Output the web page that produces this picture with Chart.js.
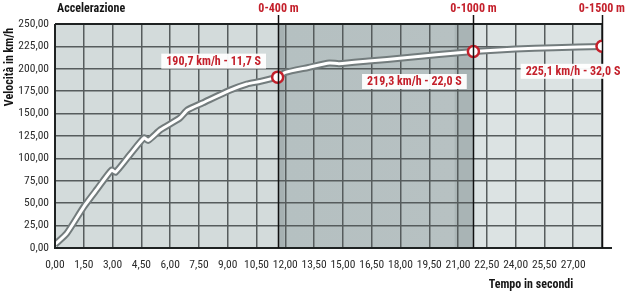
<!DOCTYPE html>
<html>
<head>
<meta charset="utf-8">
<script src="https://cdn.jsdelivr.net/npm/chart.js@4/dist/chart.umd.min.js"></script>
<style>
    body { margin: 0; background: #fff; }
    #wrap { width: 630px; height: 291px; }
</style>
</head>
<body>
<div id="wrap"><canvas id="accelChart" width="630" height="291"></canvas></div>
<script>
// speed curve (time in s, speed in km/h)
const timeValues = [0, 0.6, 1.5, 2.2, 2.95, 3.15, 3.9, 4.65, 4.85, 5.5, 6.5, 6.9, 7.7, 9.1, 10.0, 10.7, 11.6,
    12.0, 13.2, 14.3, 14.8, 16.5, 18.1, 20.0, 21.8, 24.0, 26.0, 28.5];
const speedValues = [4, 16, 46, 66, 87, 84.5, 104, 123, 120, 132, 145, 154, 162, 176, 183, 186, 191,
    196, 201.5, 206.5, 205.7, 209, 212, 216, 219.3, 222, 223.5, 225];

// distance markers
const markerTimes = [11.6, 21.8, 28.5];
const markerSpeeds = [190.7, 219.3, 225.1];
const markerNames = ['0-400 m', '0-1000 m', '0-1500 m'];
const markerLabels = ['190,7 km/h - 11,7 S', '219,3 km/h - 22,0 S', '225,1 km/h - 32,0 S'];

const xMax = 28.5;
const xStep = 1.5;
const yMax = 250;
const yStep = 25;

const RED = '#c4202b';
const NARROW = '"Liberation Sans Narrow", "Arial Narrow", "Roboto Condensed", "Liberation Sans", sans-serif';

const curve = timeValues.map((t, i) => ({ x: t, y: speedValues[i] }));
const markers = markerTimes.map((t, i) => ({ x: t, y: markerSpeeds[i] }));

function fmt(v) {
    return v.toFixed(2).replace('.', ',');
}

// plot background with the shaded 400-1000 m band
const backgroundPlugin = {
    id: 'background',
    beforeDraw(chart) {
        const { ctx, chartArea: a, scales: { x } } = chart;
        const x1 = x.getPixelForValue(markerTimes[0]);
        const x2 = x.getPixelForValue(markerTimes[1]);
        ctx.save();
        ctx.fillStyle = '#d3dbdb';
        ctx.fillRect(a.left, a.top, x1 - a.left, a.height);
        const g = ctx.createLinearGradient(x1, 0, x2, 0);
        g.addColorStop(0, '#a6b1b2');
        g.addColorStop(0.03, '#a6b1b2');
        g.addColorStop(0.04, '#b5c0c1');
        g.addColorStop(0.9, '#b7c1c2');
        g.addColorStop(0.91, '#a9b4b5');
        g.addColorStop(1, '#a9b4b5');
        ctx.fillStyle = g;
        ctx.fillRect(x1, a.top, x2 - x1, a.height);
        ctx.fillStyle = '#dce3e3';
        ctx.fillRect(x2, a.top, a.right - x2, a.height);
        ctx.restore();
    },
    afterDatasetsDraw(chart) {
        const { ctx, chartArea: a, scales: { x, y } } = chart;
        ctx.save();
        // frame lines
        ctx.strokeStyle = '#1e2222';
        ctx.lineWidth = 2;
        ctx.beginPath();
        ctx.moveTo(a.left, a.top);
        ctx.lineTo(a.left, a.bottom);
        ctx.lineTo(a.right + 10, a.bottom);
        ctx.moveTo(a.left, a.top);
        ctx.lineTo(a.right, a.top);
        ctx.stroke();

        // distance marker lines and names
        ctx.lineWidth = 1.5;
        ctx.font = 'bold 12px ' + NARROW;
        ctx.textBaseline = 'middle';
        markerTimes.forEach((t, i) => {
            const px = Math.round(x.getPixelForValue(t)) + 0.5;
            ctx.strokeStyle = '#111';
            ctx.beginPath();
            ctx.moveTo(px, a.top - 9);
            ctx.lineTo(px, a.bottom);
            ctx.stroke();
            ctx.fillStyle = RED;
            ctx.textAlign = 'center';
            const w = ctx.measureText(markerNames[i]).width;
            let cx = px;
            if (cx + w / 2 > chart.width - 5) cx = chart.width - 5 - w / 2;
            ctx.fillText(markerNames[i], cx, 9);
        });
        ctx.restore();
    },
    afterDraw(chart) {
        const { ctx, chartArea: a, scales: { x, y } } = chart;
        ctx.save();
        // value labels in white boxes
        const offsets = [[-64, -16], [-59, 30], [-29, 25]];
        ctx.font = 'bold 12px ' + NARROW;
        ctx.textAlign = 'center';
        ctx.textBaseline = 'middle';
        markerLabels.forEach((txt, i) => {
            const cx = x.getPixelForValue(markerTimes[i]) + offsets[i][0];
            const cy = y.getPixelForValue(markerSpeeds[i]) + offsets[i][1];
            const w = ctx.measureText(txt).width + 10;
            ctx.fillStyle = 'rgba(255,255,255,0.95)';
            ctx.fillRect(cx - w / 2, cy - 7.5, w, 15);
            ctx.fillStyle = RED;
            ctx.fillText(txt, cx, cy + 0.5);
        });

        // titles
        ctx.fillStyle = '#151515';
        ctx.font = 'bold 12px ' + NARROW;
        ctx.textAlign = 'left';
        ctx.fillText('Accelerazione', a.left + 2, 9);
        ctx.textAlign = 'center';
        ctx.fillText('Tempo in secondi', 531, 285);
        ctx.translate(10, 67);
        ctx.rotate(-Math.PI / 2);
        ctx.fillText('Velocità in km/h', 0, 0);
        ctx.restore();
    }
};

new Chart(document.getElementById('accelChart'), {
    type: 'line',
    data: {
        datasets: [
            {
                type: 'scatter',
                data: markers,
                pointRadius: 5.5,
                pointBorderWidth: 2.5,
                pointBackgroundColor: '#ffffff',
                pointBorderColor: RED,
                showLine: false
            },
            {
                data: curve,
                borderColor: '#ffffff',
                borderWidth: 3,
                pointRadius: 0,
                tension: 0.2
            },
            {
                data: curve,
                borderColor: '#737c7d',
                borderWidth: 7,
                pointRadius: 0,
                tension: 0.2
            }
        ]
    },
    plugins: [backgroundPlugin],
    options: {
        responsive: false,
        animation: false,
        layout: { padding: { top: 24, right: 28, left: 0, bottom: 0 } },
        plugins: {
            legend: { display: false },
            tooltip: { enabled: false }
        },
        scales: {
            x: {
                type: 'linear',
                min: 0,
                max: xMax,
                afterFit(scale) { scale.height = 43; },
                ticks: {
                    stepSize: xStep,
                    maxRotation: 0,
                    autoSkip: false,
                    padding: 10,
                    color: '#2b2b2b',
                    font: { family: NARROW, size: 11.5 },
                    callback: v => (v >= xMax ? '' : fmt(v))
                },
                grid: {
                    color: '#565c5d',
                    lineWidth: 1.5,
                    drawTicks: false
                },
                border: { display: false }
            },
            y: {
                min: 0,
                max: yMax,
                afterFit(scale) { scale.width = 55; },
                ticks: {
                    stepSize: yStep,
                    padding: 6,
                    color: '#2b2b2b',
                    font: { family: NARROW, size: 11.5 },
                    callback: v => fmt(v)
                },
                grid: {
                    color: '#565c5d',
                    lineWidth: 1.5,
                    drawTicks: false
                },
                border: { display: false }
            }
        }
    }
});
</script>
</body>
</html>
